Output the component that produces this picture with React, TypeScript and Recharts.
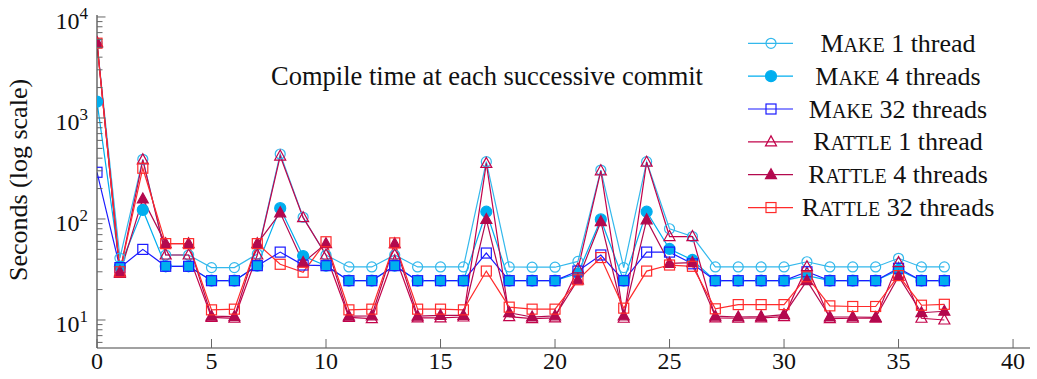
import React from "react";
import { LineChart, Line, XAxis, YAxis } from "recharts";

const commits = [
  0, 1, 2, 3, 4, 5, 6, 7, 8, 9, 10, 11, 12, 13, 14, 15, 16, 17, 18, 19, 20,
  21, 22, 23, 24, 25, 26, 27, 28, 29, 30, 31, 32, 33, 34, 35, 36, 37,
];

const make1 = [
  5500, 41, 390, 44, 44, 33, 33, 45, 440, 104, 44, 33.5, 33.5, 44, 33.5, 33.5,
  33.5, 369, 33.5, 33.3, 33.3, 38, 305, 33, 369, 80, 67, 33.5, 33.5, 33.5, 33.5,
  37.7, 33.5, 33.5, 33.5, 40.8, 33.5, 33.5,
];
const make4 = [
  1450, 33.7, 123, 34, 34, 24.5, 24.5, 34.5, 128, 43, 34.5, 24.5, 24.5, 34.5,
  24.5, 24.5, 24.5, 118, 24.5, 24.5, 24.5, 29, 99, 24.5, 118, 50.5, 39.3, 24.5,
  24.5, 24.5, 24.5, 27.5, 24.5, 24.5, 24.5, 31.3, 24.5, 24.5,
];
const make32 = [
  290, 33, 50, 34, 34, 24.5, 24.5, 34.5, 47, 35, 34.5, 24.5, 24.5, 34.5, 24.5,
  24.5, 24.5, 46, 24.5, 24.5, 24.5, 30.5, 44, 24.5, 47, 47, 36, 24.5, 24.5,
  24.5, 24.5, 30, 24.5, 24.5, 24.5, 32.5, 24.5, 24.5,
];
const rattle1 = [
  5500, 30, 385, 44, 44, 10.6, 10.4, 44, 420, 103, 44, 10.6, 10.3, 44, 10.5,
  10.5, 10.7, 355, 10.8, 10.3, 10.5, 32, 300, 10.4, 365, 67, 67, 10.5, 10.4,
  10.5, 10.8, 33.7, 10.3, 10.4, 10.4, 37, 10.4, 10,
];
const rattle4 = [
  5600, 29, 158, 57, 57, 10.9, 10.8, 57, 115, 37, 57, 10.9, 11, 57, 10.9, 11.1,
  11.1, 99, 11.8, 10.7, 11, 25, 94, 11, 98, 36.4, 37, 10.9, 10.7, 10.8, 11.3,
  24.5, 10.7, 10.7, 10.6, 27, 11.8, 12.2,
];
const rattle32 = [
  5500, 30, 318, 57, 57, 12.6, 12.8, 57, 35.6, 29.7, 59.5, 12.6, 12.8, 58, 12.8,
  12.8, 12.6, 30.5, 13.4, 12.8, 12.8, 25, 41.5, 13.1, 30.5, 35, 34, 12.9, 14.2,
  14.2, 14.2, 26.8, 13.8, 13.6, 13.6, 27.5, 14, 14.3,
];

const xTicks = [0, 5, 10, 15, 20, 25, 30, 35, 40];
const yMajorTicks = [10, 100, 1000, 10000];
const yTicks = [
  6, 7, 8, 9, 10, 20, 30, 40, 50, 60, 70, 80, 90, 100, 200, 300, 400, 500, 600,
  700, 800, 900, 1000, 2000, 3000, 4000, 5000, 6000, 7000, 8000, 9000, 10000,
];

const FONT = "'Liberation Serif', 'Times New Roman', serif";

type Shape = "circleOpen" | "circleFilled" | "squareOpen" | "triOpen" | "triFilled";

const SERIES: { key: string; tool: string; rest: string; color: string; shape: Shape }[] = [
  { key: "make1", tool: "Make", rest: " 1 thread", color: "#33b8ec", shape: "circleOpen" },
  { key: "make4", tool: "Make", rest: " 4 threads", color: "#00aeef", shape: "circleFilled" },
  { key: "make32", tool: "Make", rest: " 32 threads", color: "#1a1aff", shape: "squareOpen" },
  { key: "rattle1", tool: "Rattle", rest: " 1 thread", color: "#c2034a", shape: "triOpen" },
  { key: "rattle4", tool: "Rattle", rest: " 4 threads", color: "#b3094e", shape: "triFilled" },
  { key: "rattle32", tool: "Rattle", rest: " 32 threads", color: "#ff2b2b", shape: "squareOpen" },
];

const data = commits.map((c, i) => ({
  commit: c,
  make1: make1[i],
  make4: make4[i],
  make32: make32[i],
  rattle1: rattle1[i],
  rattle4: rattle4[i],
  rattle32: rattle32[i],
}));

const Marker = ({ shape, color, x, y }: { shape: Shape; color: string; x: number; y: number }) => {
  const sw = 1.2;
  switch (shape) {
    case "circleOpen":
      return <circle cx={x} cy={y} r={5} fill="none" stroke={color} strokeWidth={sw} />;
    case "circleFilled":
      return <circle cx={x} cy={y} r={5.5} fill={color} stroke={color} strokeWidth={sw} />;
    case "squareOpen":
      return <rect x={x - 5} y={y - 5} width={10} height={10} fill="none" stroke={color} strokeWidth={sw} />;
    case "triOpen":
    case "triFilled":
      return (
        <polygon
          points={`${x},${y - 6} ${x - 5.5},${y + 4} ${x + 5.5},${y + 4}`}
          fill={shape === "triFilled" ? color : "none"}
          stroke={color}
          strokeWidth={sw}
        />
      );
  }
  return null;
};

const makeDot = (shape: Shape, color: string) => (props: any) => {
  const { cx, cy, index } = props;
  if (cx == null || cy == null) return <g key={`d-${index}`} />;
  return (
    <g key={`d-${index}`}>
      <Marker shape={shape} color={color} x={cx} y={cy} />
    </g>
  );
};

const YTick = (props: any) => {
  const { x, y, payload } = props;
  const v = payload.value;
  const major = yMajorTicks.includes(v);
  const exp = Math.round(Math.log10(v));
  return (
    <g>
      <line x1={x} x2={x + (major ? 8.5 : 5.5)} y1={y} y2={y} stroke="#666" strokeWidth={1} />
      {major && (
        <text x={x - 9} y={y + 12} textAnchor="end" fontSize={24} fontFamily={FONT} fill="#111">
          10
          <tspan dy={-10} fontSize={17}>
            {exp}
          </tspan>
        </text>
      )}
    </g>
  );
};

const XTick = (props: any) => {
  const { x, y, payload } = props;
  return (
    <g>
      <line x1={x} x2={x} y1={y} y2={y - 9} stroke="#666" strokeWidth={1} />
      <text x={x} y={y + 21} textAnchor="middle" fontSize={24} fontFamily={FONT} fill="#111">
        {payload.value}
      </text>
    </g>
  );
};

export default function App() {
  return (
    <div style={{ position: "absolute", left: 0, top: 0, width: 1037, height: 379, background: "#fff" }}>
      <LineChart
        width={1037}
        height={379}
        data={data}
        margin={{ top: 15, right: 7, bottom: 0, left: 0 }}
      >
        <XAxis
          dataKey="commit"
          type="number"
          domain={[0, 40.74]}
          allowDataOverflow
          ticks={xTicks}
          interval={0}
          tickSize={0}
          tickMargin={0}
          tickLine={false}
          tick={<XTick />}
          axisLine={{ stroke: "#444", strokeWidth: 1.2 }}
          height={31}
        />
        <YAxis
          type="number"
          scale="log"
          domain={[5.28, 10460]}
          allowDataOverflow
          ticks={yTicks}
          interval={0}
          tickSize={0}
          tickMargin={0}
          tickLine={false}
          tick={<YTick />}
          axisLine={{ stroke: "#444", strokeWidth: 1.2 }}
          width={97}
        />
        {SERIES.map((s) => (
          <Line
            key={s.key}
            dataKey={s.key}
            type="linear"
            stroke={s.color}
            strokeWidth={1.2}
            dot={makeDot(s.shape, s.color)}
            activeDot={false}
            isAnimationActive={false}
          />
        ))}
      </LineChart>
      <svg
        width={1037}
        height={379}
        style={{ position: "absolute", left: 0, top: 0, pointerEvents: "none" }}
      >
        <text x={487} y={85} textAnchor="middle" fontSize={26.5} fontFamily={FONT} fill="#111">
          Compile time at each successive commit
        </text>
        <text
          transform="translate(27,180) rotate(-90)"
          textAnchor="middle"
          fontSize={26}
          fontFamily={FONT}
          fill="#111"
        >
          Seconds (log scale)
        </text>
        {SERIES.map((s, i) => {
          const cy = 43.3 + i * 32.85;
          return (
            <g key={s.key}>
              <line x1={748} x2={793} y1={cy} y2={cy} stroke={s.color} strokeWidth={1.2} />
              <Marker shape={s.shape} color={s.color} x={771} y={cy} />
              <text x={898} y={cy + 8.5} textAnchor="middle" fontSize={26} fontFamily={FONT} fill="#111">
                {s.tool.charAt(0)}
                <tspan style={{ fontVariant: "small-caps" }} fontSize={29}>
                  {s.tool.slice(1)}
                </tspan>
                {s.rest}
              </text>
            </g>
          );
        })}
      </svg>
    </div>
  );
}
